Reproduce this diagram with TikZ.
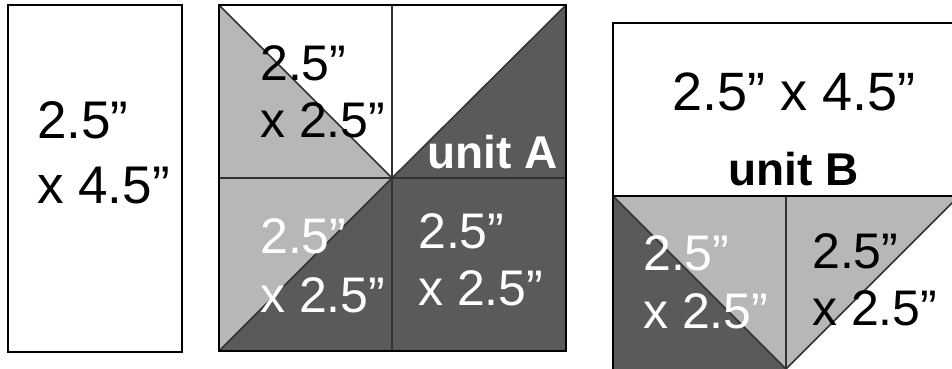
\documentclass[tikz,border=0pt]{standalone}
\usepackage{fontspec}
\setmainfont{Liberation Sans}
\definecolor{lightg}{RGB}{183,183,183}
\definecolor{darkg}{RGB}{90,90,90}
\definecolor{lineg}{RGB}{50,50,50}
\tikzset{
  lbl/.style={anchor=base west, inner sep=0pt, font=\fontsize{50}{60}\selectfont},
  biglbl/.style={anchor=base west, inner sep=0pt, font=\fontsize{53}{60}\selectfont},
  ulbl/.style={anchor=base west, inner sep=0pt, font=\fontsize{46}{55}\selectfont\bfseries},
  outer/.style={draw=black, line width=2pt},
  inner/.style={draw=lineg, line width=1.5pt},
}
\begin{document}
\begin{tikzpicture}[x=1pt,y=-1pt]
\useasboundingbox (0,0) rectangle (952,368);
\clip (0,0) rectangle (952,368);
% left rectangle
\draw[outer] (8,5) rectangle (182,352);
\node[biglbl] (l1) at (37,138) {2.5”};
\node[biglbl] (l2) at (37,203) {x 4.5”};
% middle unit A
\fill[lightg] (219,5) -- (219,178) -- (392,178) -- cycle;
\fill[darkg] (566,5) -- (566,178) -- (392,178) -- cycle;
\fill[lightg] (219,178) -- (392,178) -- (219,351) -- cycle;
\fill[darkg] (392,178) -- (392,351) -- (219,351) -- cycle;
\fill[darkg] (392,178) rectangle (566,351);
\draw[inner] (219,5) -- (392,178) -- (566,5);
\draw[inner] (392,178) -- (219,351);
\draw[inner] (392,5) -- (392,351);
\draw[inner] (219,178) -- (566,178);
\draw[outer] (219,5) rectangle (566,351);
\node[lbl] (a1) at (260,80) {2.5”};
\node[lbl] (a2) at (260,137) {x 2.5”};
\node[ulbl, text=white] (ua) at (427,168) {unit A};
\node[lbl, text=white] (a3) at (260,253) {2.5”};
\node[lbl, text=white] (a4) at (260,312) {x 2.5”};
\node[lbl, text=white] (a5) at (418,248) {2.5”};
\node[lbl, text=white] (a6) at (418,305) {x 2.5”};
% right unit B
\fill[darkg] (613,196) -- (613,372) -- (789,372) -- cycle;
\fill[lightg] (613,196) -- (786,196) -- (786,369) -- cycle;
\fill[lightg] (786,196) -- (959,196) -- (786,369) -- cycle;
\draw[inner] (613,196) -- (786,369) -- (959,196);
\draw[inner] (786,196) -- (786,372);
\draw[outer] (613,23) rectangle (959,372);
\draw[outer] (613,196) -- (959,196);
\node[biglbl, font=\fontsize{54}{60}\selectfont] (b1) at (672,110) {2.5” x 4.5”};
\node[ulbl] (ub) at (728,185) {unit B};
\node[lbl, text=white] (b2) at (643,270) {2.5”};
\node[lbl, text=white] (b3) at (643,328) {x 2.5”};
\node[lbl] (b4) at (812,268) {2.5”};
\node[lbl] (b5) at (812,325) {x 2.5”};
\end{tikzpicture}
\end{document}
